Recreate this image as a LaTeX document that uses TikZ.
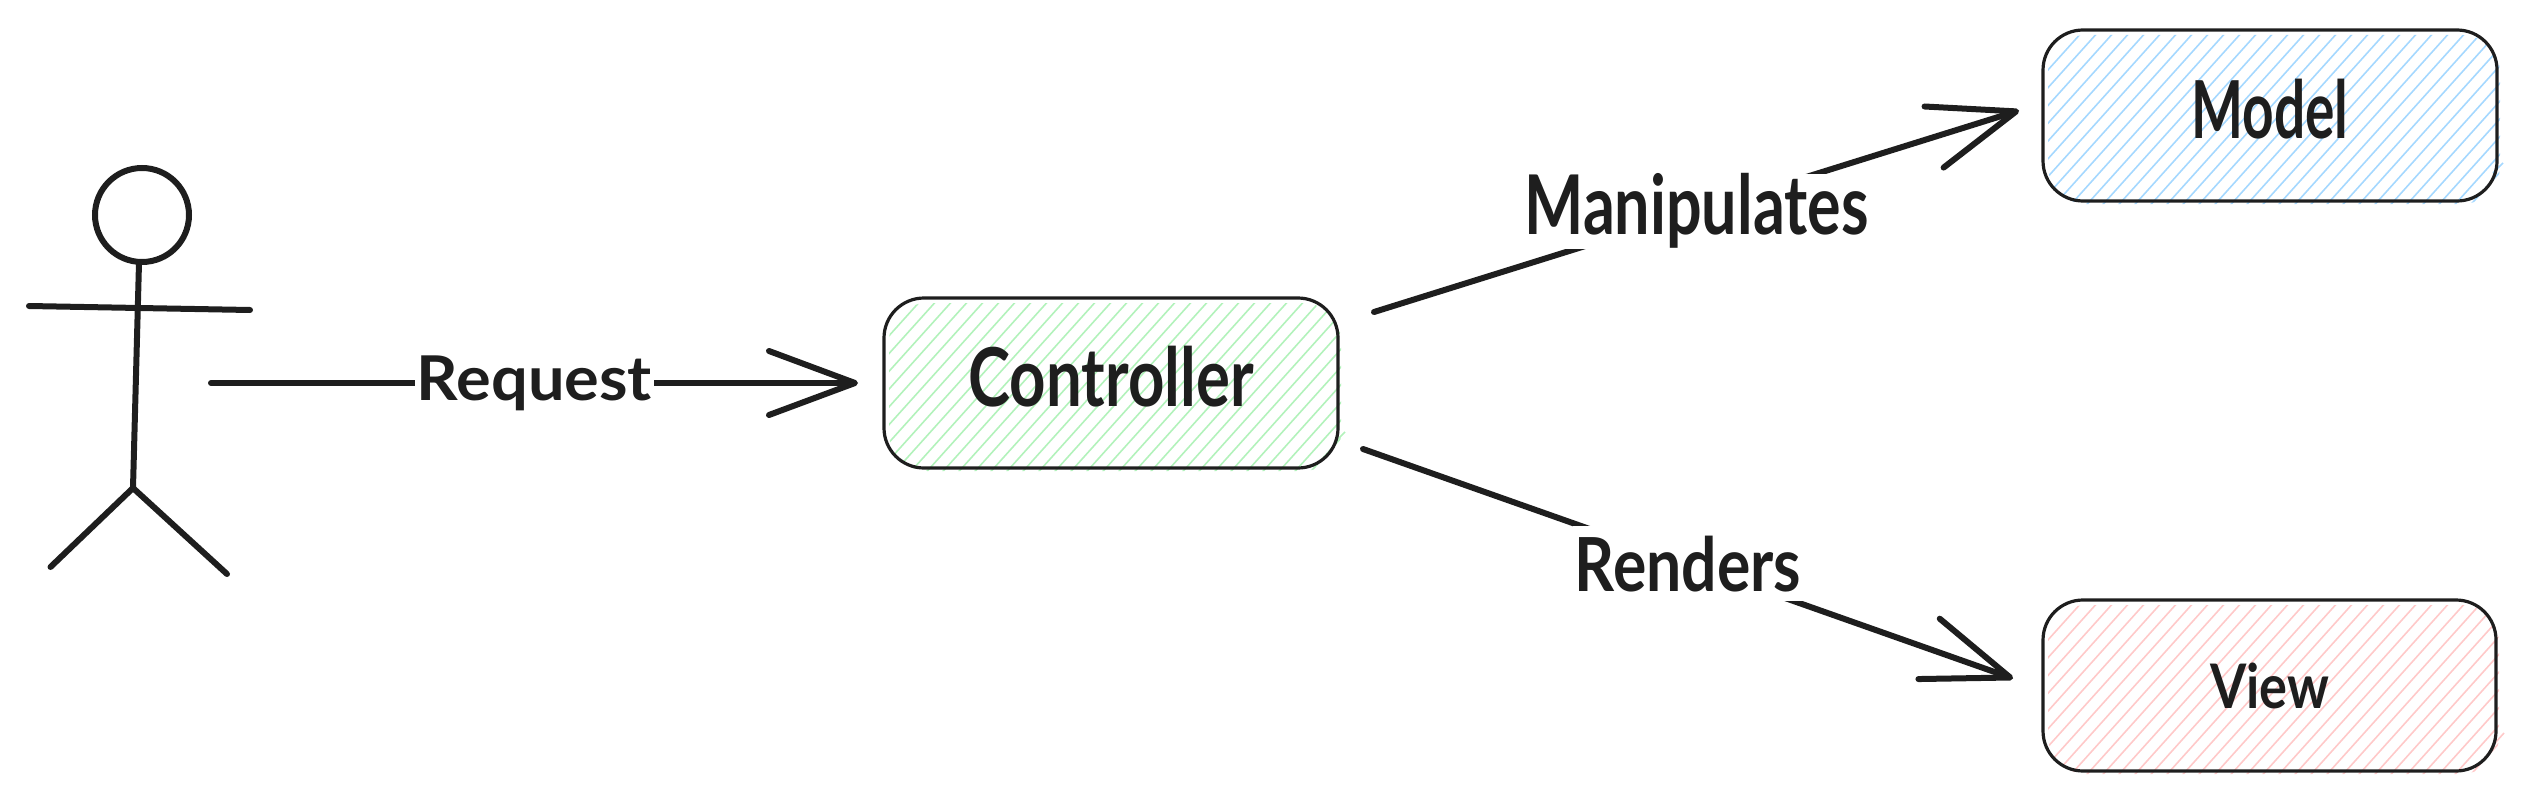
\documentclass[tikz,border=0pt]{standalone}
\usepackage{fontspec}
\usepackage{graphicx}
\setmainfont{Lato}
\usetikzlibrary{arrows.meta,calc,shapes.geometric}
\definecolor{ink}{HTML}{1E1E1E}
\definecolor{hgreen}{HTML}{B2F2BB}
\definecolor{hblue}{HTML}{A5D8FF}
\definecolor{hpink}{HTML}{FFC9C9}
\tikzset{
  boxnode/.style={draw=ink,line width=3.2pt,rounded corners=40pt,inner sep=0pt,outer sep=0pt,text=ink,anchor=north west,font=\bfseries},
  stick/.style={draw=ink,line width=6pt,line cap=round},
  flow/.style={draw=ink,line width=6pt,line cap=round,-{Straight Barb[length=86pt,width=64pt,round]}},
  labelmask/.style={fill=white,text=ink,font=\bfseries,inner xsep=2pt,inner ysep=0pt,minimum height=75pt},
  hatchline/.style={line width=1.6pt}
}
% x, y, w, h, colour, phase : hachured fill, slightly off register as in the sketch
\newcommand{\hatchfill}[6]{%
  \begin{scope}
    \clip[rounded corners=38pt] (#1+5,#2+5) rectangle (#1+#3+3,#2+#4+3);
    \foreach \k in {0,...,50}
      \draw[#5,hatchline] (#1+16*\k-#4-10+#6,#2+#4+10) -- ++(0.9*#4+18,-#4-20);
  \end{scope}}
\newcommand{\fit}[3]{\resizebox*{#1pt}{#2pt}{#3}}
\newcommand{\upby}[1]{\rule[-#1pt]{0pt}{#1pt}}
\begin{document}
\begin{tikzpicture}[x=1pt,y=-1pt]
  \useasboundingbox (0,0) rectangle (2526,800);
  % hachures
  \hatchfill{884}{298}{454}{170}{hgreen}{9}
  \hatchfill{2043}{30}{454}{171}{hblue}{11}
  \hatchfill{2043}{600}{453}{171}{hpink}{11}
  \draw[hgreen,hatchline] (1345,432) -- (1337,440);
  \draw[hblue,hatchline] (2503,163) -- (2493,173);
  \draw[hpink,hatchline] (2504,733) -- (2495,743);
  % boxes
  \node[boxnode,minimum width=454pt,minimum height=170pt] (controller) at (884,298)
    {\upby{14}\fit{285}{61}{Controller}};
  \node[boxnode,minimum width=454pt,minimum height=171pt] (model) at (2043,30)
    {\upby{14}\fit{157}{60}{Model}};
  \node[boxnode,minimum width=453pt,minimum height=171pt] (view) at (2043,600)
    {\fit{119}{46}{View}};
  % actor
  \node[draw=ink,line width=6pt,circle,minimum size=94pt,inner sep=0pt,outer sep=0pt] (head) at (142,215) {};
  \coordinate (neck) at (139,263);
  \coordinate (hip) at (133,488);
  \coordinate (armL) at (29,306);
  \coordinate (armR) at (250,310);
  \coordinate (legL) at (50.5,567);
  \coordinate (legR) at (227,574);
  \draw[stick] (neck) -- (hip);
  \draw[stick] (armL) -- (armR);
  \draw[stick] (legL) -- (hip) -- (legR);
  % connectors
  \coordinate (reqStart) at (211,383);
  \draw[flow] (reqStart) -- ($(controller.west)+(-26,0)$)
    node[midway,labelmask] (reqLabel) {\fit{235}{55}{Request}};
  \draw[flow] ($(controller.north east)+(36,14)$) -- ($(model.west)+(-24,-5)$)
    node[midway,labelmask] (manLabel) {\fit{344}{75}{Manipulates}};
  \draw[flow] ($(controller.south east)+(25,-19)$) -- ($(view.west)+(-30,-7)$)
    node[midway,labelmask] (renLabel) {\fit{226}{56}{Renders}};
\end{tikzpicture}
\end{document}
